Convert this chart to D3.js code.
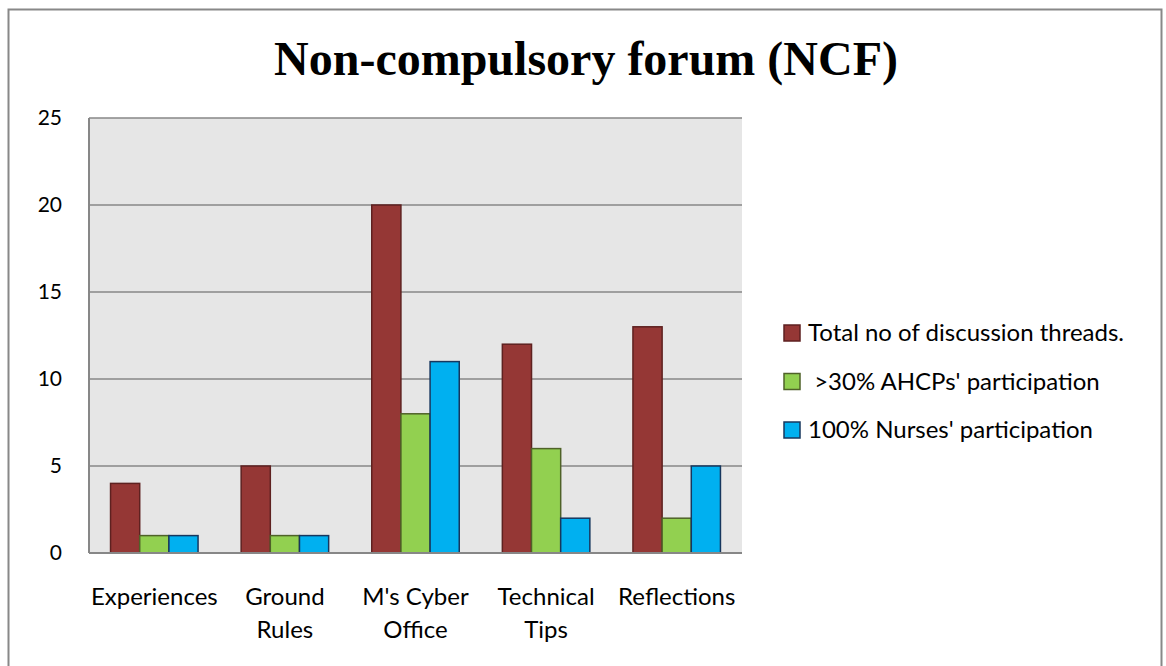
<!DOCTYPE html>
<html>
<head>
<meta charset="utf-8">
<script src="https://cdn.jsdelivr.net/npm/d3@7"></script>
<style>
  body { margin: 0; background: #fff; }
  svg { display: block; }
</style>
</head>
<body>
<div id="chart"></div>
<script>
// data
const categories = [["Experiences"], ["Ground", "Rules"], ["M's Cyber", "Office"], ["Technical", "Tips"], ["Reflections"]];
const seriesNames = ["Total no of discussion threads.", " >30% AHCPs' participation", "100% Nurses' participation"];
const totalThreads = [4, 5, 20, 12, 13];
const ahcps = [1, 1, 8, 6, 2];
const nurses = [1, 1, 11, 2, 5];
const yTicks = [0, 5, 10, 15, 20, 25];

const fills = ["#953735", "#92d050", "#00b0f0"];
const strokes = ["#5e2120", "#4f6228", "#17375e"];

const W = 1166, H = 666;
const margin = {top: 118, right: 424, bottom: 113, left: 89};
const width = W - margin.left - margin.right,
      height = H - margin.top - margin.bottom;

const svg = d3.select("#chart").append("svg")
    .attr("width", W).attr("height", H);

// outer frame (no bottom edge, runs off the picture)
svg.append("path")
    .attr("d", `M8.5,${H} V9.5 H1161.5 V${H}`)
    .attr("fill", "none").attr("stroke", "#888").attr("stroke-width", 2);

svg.append("text")
    .attr("x", 586).attr("y", 75)
    .attr("text-anchor", "middle")
    .style("font-family", "'Liberation Serif', 'Times New Roman', serif")
    .style("font-weight", "bold").style("font-size", "48px")
    .text("Non-compulsory forum (NCF)");

const g = svg.append("g").attr("transform", `translate(${margin.left},${margin.top})`);

const x0 = d3.scaleBand().domain(d3.range(categories.length)).range([0, width])
    .paddingInner(0.33).paddingOuter(0.165);
const x1 = d3.scaleBand().domain(d3.range(3)).range([0, x0.bandwidth()]);
const y = d3.scaleLinear().domain([0, 25]).range([height, 0]);

g.append("rect").attr("width", width).attr("height", height).attr("fill", "#e6e6e6");

// gridlines
g.selectAll(".grid").data(yTicks.filter(d => d > 0)).join("line")
    .attr("x1", 0).attr("x2", width)
    .attr("y1", d => y(d)).attr("y2", d => y(d))
    .attr("stroke", "#878787").attr("stroke-width", 1.5);

const values = categories.map((c, i) => [totalThreads[i], ahcps[i], nurses[i]]);

const groups = g.selectAll(".grp").data(values).join("g")
    .attr("transform", (d, i) => `translate(${x0(i)},0)`);
groups.selectAll("rect").data(d => d).join("rect")
    .attr("x", (d, j) => x1(j))
    .attr("y", d => y(d))
    .attr("width", x1.bandwidth())
    .attr("height", d => height - y(d))
    .attr("fill", (d, j) => fills[j])
    .attr("stroke", (d, j) => strokes[j])
    .attr("stroke-width", 1.5);

// axes lines
g.append("line").attr("x1", 0).attr("x2", 0).attr("y1", 0).attr("y2", height)
    .attr("stroke", "#878787").attr("stroke-width", 2);
g.append("line").attr("x1", 0).attr("x2", width).attr("y1", height).attr("y2", height)
    .attr("stroke", "#878787").attr("stroke-width", 2);

const font = "Lato, 'Open Sans', sans-serif";

// y tick labels
g.selectAll(".ytl").data(yTicks).join("text")
    .attr("x", -27).attr("y", d => y(d)).attr("dy", "0.35em")
    .attr("text-anchor", "end")
    .style("font-family", font).style("font-size", "21px")
    .text(d => d);

// x labels
g.selectAll(".xl").data(categories).join("text")
    .attr("text-anchor", "middle")
    .attr("transform", (d, i) => `translate(${x0(i) + x0.bandwidth() / 2},${height + 52})`)
    .style("font-family", font).style("font-size", "24px")
    .selectAll("tspan").data(d => d).join("tspan")
    .attr("x", 0).attr("dy", (d, k) => k === 0 ? 0 : 33)
    .text(d => d);

// legend
const legend = svg.append("g").attr("transform", "translate(784,333)");
const items = legend.selectAll("g").data(seriesNames).join("g")
    .attr("transform", (d, i) => `translate(0,${i * 48.5})`);
items.append("rect").attr("x", 0).attr("y", -8).attr("width", 16).attr("height", 16)
    .attr("fill", (d, i) => fills[i]).attr("stroke", (d, i) => strokes[i]).attr("stroke-width", 1.5);
items.append("text").attr("x", 24).attr("y", 8)
    .style("font-family", font).style("font-size", "24px")
    .style("white-space", "pre").attr("xml:space", "preserve")
    .text(d => d);
</script>
</body>
</html>
